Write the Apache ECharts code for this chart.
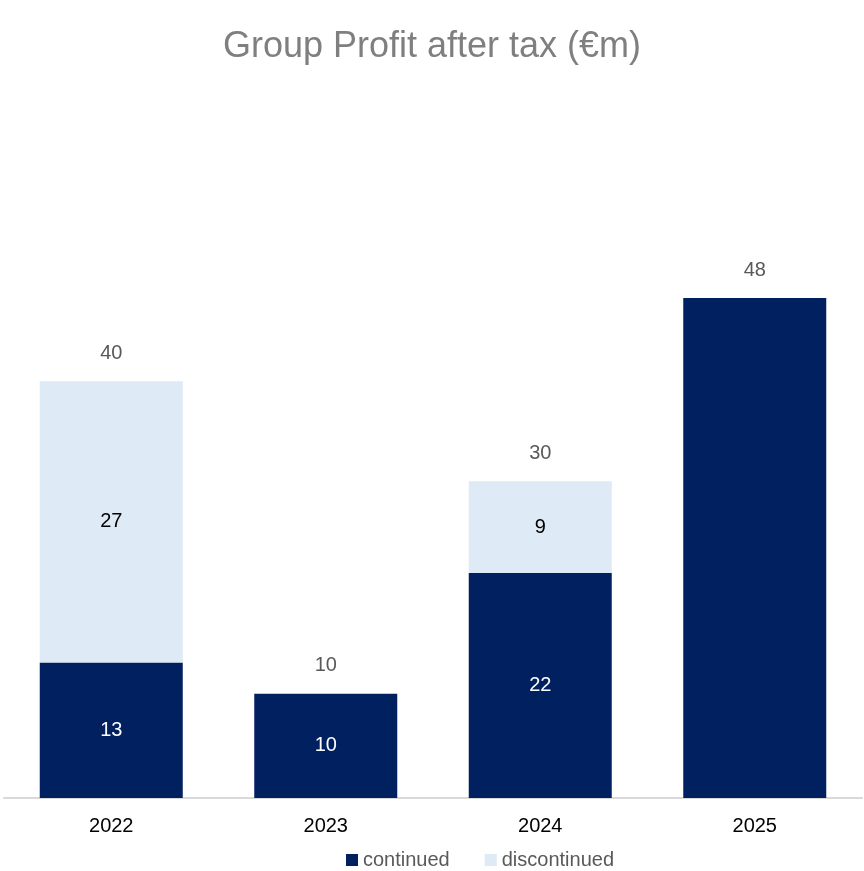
<!DOCTYPE html>
<html>
<head>
<meta charset="utf-8">
<title>Group Profit after tax</title>
<script src="https://cdn.jsdelivr.net/npm/echarts@6/dist/echarts.min.js"></script>
<style>
  html, body { margin: 0; padding: 0; background: #fff; }
  #chartMain { width: 864px; height: 871px; }
</style>
</head>
<body>
<div id="chartMain"></div>
<script>
var years = ['2022', '2023', '2024', '2025'];
var continued = [13, 10, 21.6, 48];
var discontinued = [27, null, 8.8, null];
var totals = [40, 10, 30.4, 48];
// 2025 has no label inside the bar
var showInside = [true, true, true, false];

var font = "'Liberation Sans', Arial, sans-serif";

function roundLabel(p) {
	return Math.round(p.value);
}

var continuedData = continued.map(function (v, i) {
	return { value: v, label: { show: showInside[i] } };
});

var myChart = echarts.init(document.getElementById('chartMain'));
var option = {
	    backgroundColor: '#fff',
	    animation: false,
	    title: {
	        text: 'Group Profit after tax (€m)',
	        left: 'center',
	        top: 24,
	        textStyle: { color: '#7f7f7f', fontSize: 36, fontWeight: 'normal', fontFamily: font }
	    },
	    legend: {
	        left: 341,
	        top: 845,
	        itemWidth: 12,
	        itemHeight: 12,
	        itemGap: 35,
	        icon: 'rect',
	        textStyle: { color: '#595959', fontSize: 20, fontFamily: font },
	        data: ['continued', 'discontinued']
	    },
	    grid: {
	        left: 4,
	        right: 2,
	        top: 173,
	        bottom: 73,
	        containLabel: false
	    },
	    xAxis: {
	        type: 'category',
	        data: years,
	        axisLine: { show: true, lineStyle: { color: '#d9d9d9', width: 2 } },
	        axisTick: { show: false },
	        axisLabel: { color: '#000', fontSize: 20, fontFamily: font, margin: 18 }
	    },
	    yAxis: {
	        type: 'value',
	        min: 0,
	        max: 60,
	        show: false,
	        splitLine: { show: false }
	    },
	    series: [
	        {
	            name: 'continued',
	            type: 'bar',
	            stack: 'profit',
	            barWidth: 143,
	            barGap: '-100%',
	            itemStyle: { color: '#002060' },
	            label: { show: true, position: 'inside', color: '#fff', fontSize: 20, fontFamily: font, formatter: roundLabel },
	            data: continuedData
	        },
	        {
	            name: 'discontinued',
	            type: 'bar',
	            stack: 'profit',
	            barWidth: 143,
	            barGap: '-100%',
	            itemStyle: { color: '#deeaf6' },
	            label: { show: true, position: 'inside', color: '#000', fontSize: 20, fontFamily: font, formatter: roundLabel },
	            data: discontinued
	        },
	        {
	            // 总数标签
	            name: 'total',
	            type: 'bar',
	            barWidth: 143,
	            barGap: '-100%',
	            silent: true,
	            z: 1,
	            itemStyle: { color: 'rgba(0,0,0,0)' },
	            label: { show: true, position: 'top', distance: 18, color: '#595959', fontSize: 20, fontFamily: font, formatter: roundLabel },
	            data: totals
	        }
	    ]
};
myChart.setOption(option);
</script>
</body>
</html>
